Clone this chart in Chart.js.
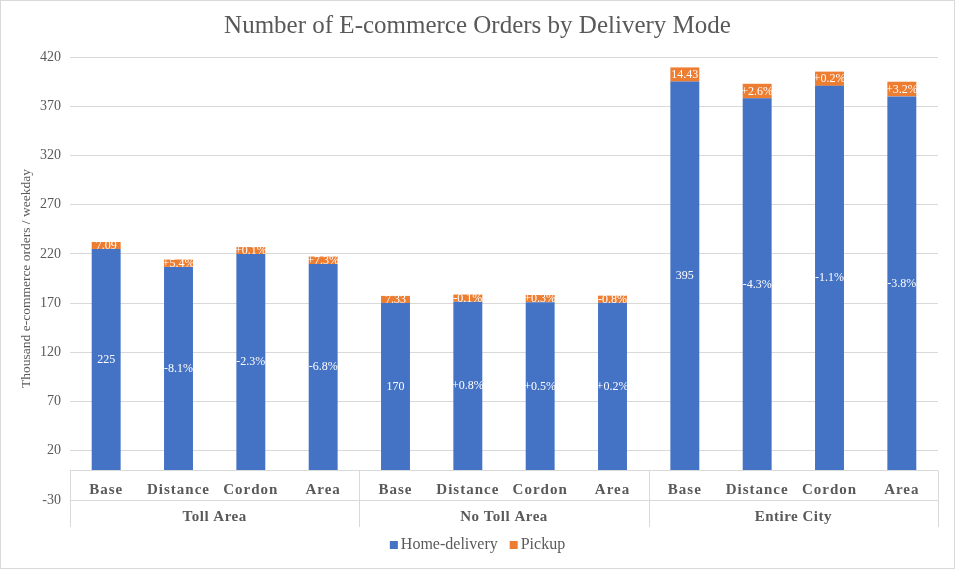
<!DOCTYPE html>
<html>
<head>
<meta charset="utf-8">
<script src="https://cdn.jsdelivr.net/npm/chart.js@4.4.1/dist/chart.umd.min.js"></script>
<style>
  html, body { margin: 0; padding: 0; background: #fff; }
  #graph { display: block; }
</style>
</head>
<body>
<canvas id="graph" width="955" height="569"></canvas>
<script>
// data
const scenarios = ['Base', 'Distance', 'Cordon', 'Area'];
const regions = ['Toll Area', 'No Toll Area', 'Entire City'];
const homeDelivery = [225, 206.8, 219.8, 209.7, 170, 171.4, 170.9, 170.3, 395, 378.0, 390.7, 380.0];
const pickup = [7.09, 7.47, 7.1, 7.61, 7.33, 7.32, 7.35, 7.27, 14.43, 14.8, 14.46, 14.89];
const homeLabels = ['225', '-8.1%', '-2.3%', '-6.8%', '170', '+0.8%', '+0.5%', '+0.2%', '395', '-4.3%', '-1.1%', '-3.8%'];
const pickupLabels = ['7.09', '+5.4%', '+0.1%', '+7.3%', '7.33', '-0.1%', '+0.3%', '-0.8%', '14.43', '+2.6%', '+0.2%', '+3.2%'];
const yTicks = { min: -30, max: 420, step: 50 };

const SERIF = '"Liberation Serif", "Times New Roman", serif';
const GREY = '#595959';
const LINE = '#d9d9d9';

const labels = [];
regions.forEach(r => scenarios.forEach(s => labels.push(s)));

const canvas = document.getElementById('graph');
const ctx = canvas.getContext('2d');

const decorations = {
  id: 'decorations',
  beforeDraw(chart) {
    const c = chart.ctx;
    c.save();
    c.fillStyle = '#fff';
    c.fillRect(0, 0, chart.width, chart.height);
    c.strokeStyle = LINE;
    c.lineWidth = 1;
    c.strokeRect(0.5, 0.5, chart.width - 1, chart.height - 1);
    c.restore();
  },
  afterDatasetsDraw(chart) {
    const c = chart.ctx;
    const x = chart.scales.x, y = chart.scales.y;
    const area = chart.chartArea;
    c.save();

    // value labels in the bar segments
    c.fillStyle = '#fff';
    c.font = '12px ' + SERIF;
    c.textAlign = 'center';
    c.textBaseline = 'middle';
    chart.getDatasetMeta(0).data.forEach((bar, i) => {
      c.fillText(homeLabels[i], bar.x, (bar.y + bar.base) / 2);
    });
    chart.getDatasetMeta(1).data.forEach((bar, i) => {
      c.fillText(pickupLabels[i], bar.x, (bar.y + bar.base) / 2 + 0.5);
    });

    // category axis drawn at zero
    const y0 = Math.round(y.getPixelForValue(0)) + 0.5;
    const bottom = 527;
    c.strokeStyle = LINE;
    c.lineWidth = 1;
    c.beginPath();
    c.moveTo(area.left, y0);
    c.lineTo(area.right, y0);
    for (let g = 0; g <= regions.length; g++) {
      const px = Math.round(area.left + (area.right - area.left) * g / regions.length) + 0.5;
      c.moveTo(px, y0);
      c.lineTo(px, bottom);
    }
    c.stroke();

    c.fillStyle = GREY;
    c.font = 'bold 15px ' + SERIF;
    c.letterSpacing = '1px';
    labels.forEach((lab, i) => {
      c.fillText(lab, x.getPixelForValue(i), 490);
    });
    c.letterSpacing = '0.5px';
    regions.forEach((r, g) => {
      const cx = area.left + (area.right - area.left) * (g + 0.5) / regions.length;
      c.fillText(r, cx, 517);
    });
    c.letterSpacing = '0px';

    // title
    c.font = '25px ' + SERIF;
    c.fillText('Number of E-commerce Orders by Delivery Mode', chart.width / 2, 26);

    // legend
    c.font = '16px ' + SERIF;
    c.textAlign = 'left';
    const items = [['Home-delivery', '#4472C4'], ['Pickup', '#ED7D31']];
    const gap = 12, box = 8, boxGap = 3;
    let total = 0;
    items.forEach((it, k) => {
      total += box + boxGap + c.measureText(it[0]).width + (k ? gap : 0);
    });
    let lx = chart.width / 2 - total / 2;
    const ly = 545;
    items.forEach(it => {
      c.fillStyle = it[1];
      c.fillRect(lx, ly - box / 2, box, box);
      lx += box + boxGap;
      c.fillStyle = GREY;
      c.fillText(it[0], lx, ly);
      lx += c.measureText(it[0]).width + gap;
    });
    c.restore();
  }
};

new Chart(ctx, {
  type: 'bar',
  data: {
    labels: labels,
    datasets: [
      {
        label: 'Home-delivery',
        data: homeDelivery,
        backgroundColor: '#4472C4',
        borderWidth: 0
      },
      {
        label: 'Pickup',
        data: pickup,
        backgroundColor: '#ED7D31',
        borderWidth: 0
      }
    ]
  },
  options: {
    responsive: false,
    animation: false,
    devicePixelRatio: 1,
    layout: { padding: { left: 0, top: 57, right: 17, bottom: 69 } },
    datasets: {
      bar: { categoryPercentage: 1, barPercentage: 0.4 }
    },
    plugins: {
      legend: { display: false },
      title: { display: false },
      tooltip: { enabled: false }
    },
    scales: {
      x: {
        stacked: true,
        display: false
      },
      y: {
        stacked: true,
        min: yTicks.min,
        max: yTicks.max,
        afterFit(scale) { scale.width = 70; },
        border: { display: false },
        grid: { color: LINE, drawTicks: false },
        ticks: {
          stepSize: yTicks.step,
          padding: 9,
          color: GREY,
          font: { family: SERIF, size: 14 }
        },
        title: {
          display: true,
          text: 'Thousand e-commerce orders / weekday',
          color: GREY,
          font: { family: SERIF, size: 13.5 },
          padding: { top: 18, bottom: 0 }
        }
      }
    }
  },
  plugins: [decorations]
});
</script>
</body>
</html>
